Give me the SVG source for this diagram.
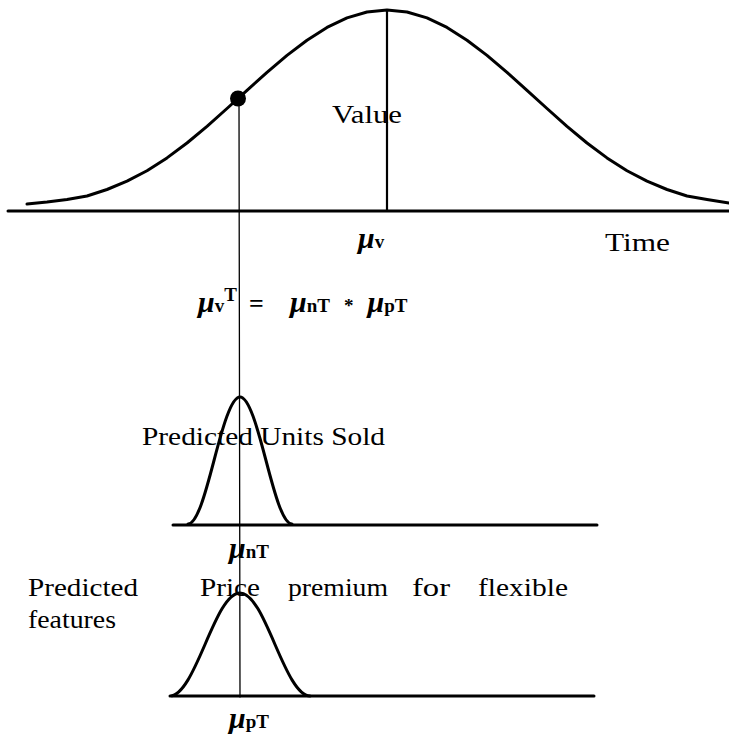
<svg xmlns="http://www.w3.org/2000/svg" width="729" height="741" viewBox="0 0 729 741">
<style>
.ln{fill:none;stroke:#000;stroke-linecap:round;stroke-linejoin:round}
.crv{stroke-width:3}
.ax{stroke-width:3}
.t{font-family:"Liberation Serif",serif;font-size:26px;fill:#000}
.mu{font-family:"Liberation Serif",serif;font-weight:bold;font-style:italic;font-size:30px;fill:#000}
.sb{font-family:"Liberation Serif",serif;font-weight:bold;font-size:19px;fill:#000}
</style>
<rect width="729" height="741" fill="#fff"/>
<g id="value-curve">
<polyline class="ln crv" points="27,204 47,202 67,199.5 87,196 107,189.5 127,181.2 147,170.75 167,157.9 187,143 207,126.3 227,108.5 247,90.3 267,72.3 287,55.35 307,40.2 327,27.45 347,17.9 367,12 387,10 407,12 427,17.9 447,27.45 467,40.2 487,55.35 507,72.3 527,90.3 547,108.5 567,126.3 587,143 607,157.9 627,170.75 647,181.2 667,189.5 687,196 707,199.5 729,203"/>
<line class="ln ax" x1="8" y1="211" x2="729" y2="211"/>
<line class="ln" x1="387" y1="10" x2="387" y2="211" stroke-width="2.2"/>
<circle cx="238" cy="98.5" r="8" fill="#000"/>
<text class="t" x="332" y="123" textLength="70" lengthAdjust="spacingAndGlyphs">Value</text>
<text class="t" x="605" y="251" textLength="65" lengthAdjust="spacingAndGlyphs">Time</text>
<text x="358" y="248"><tspan class="mu">μ</tspan><tspan class="sb">v</tspan></text>
</g>
<g id="equation">
<text x="198" y="312"><tspan class="mu">μ</tspan><tspan class="sb">v</tspan><tspan class="sb" dy="-11" font-size="20">T</tspan></text>
<text class="t" x="249" y="312" font-weight="bold" font-size="28">=</text>
<text x="290" y="312"><tspan class="mu">μ</tspan><tspan class="sb">nT</tspan><tspan class="sb" dx="14" font-size="22">*</tspan><tspan class="mu" dx="14">μ</tspan><tspan class="sb">pT</tspan></text>
</g>
<g id="units-sold">
<path class="ln crv" d="M188,524 C197.1,524 205.5,493 214,460.5 C222.5,428 231.1,397 240,397 C248.9,397 257.5,428 266,460.5 C274.5,493 282.9,524 292,524"/>
<line class="ln ax" x1="173" y1="525" x2="597" y2="525"/>
<text class="t" x="142" y="445" textLength="243" lengthAdjust="spacingAndGlyphs">Predicted Units Sold</text>
<text x="229" y="558"><tspan class="mu">μ</tspan><tspan class="sb">nT</tspan></text>
</g>
<g id="price-premium">
<path class="ln crv" d="M170,696 C182.3,696 193.6,670.9 205,644.5 C216.4,618.1 227.3,593 240,593 C252.7,593 263.6,618.1 275,644.5 C286.4,670.9 297.7,696 310,696"/>
<line class="ln ax" x1="172" y1="696" x2="594" y2="696"/>
<text class="t" y="596"><tspan x="28" textLength="110" lengthAdjust="spacingAndGlyphs">Predicted</tspan><tspan x="200" textLength="60" lengthAdjust="spacingAndGlyphs">Price</tspan><tspan x="288" textLength="100" lengthAdjust="spacingAndGlyphs">premium</tspan><tspan x="412" textLength="38" lengthAdjust="spacingAndGlyphs">for</tspan><tspan x="478" textLength="90" lengthAdjust="spacingAndGlyphs">flexible</tspan></text>
<text class="t" x="28" y="628" textLength="88" lengthAdjust="spacingAndGlyphs">features</text>
<text x="229" y="728"><tspan class="mu">μ</tspan><tspan class="sb">pT</tspan></text>
</g>
<g id="connectors">
<line class="ln" x1="239" y1="99" x2="240" y2="697" stroke-width="1.3"/>
</g>
</svg>
